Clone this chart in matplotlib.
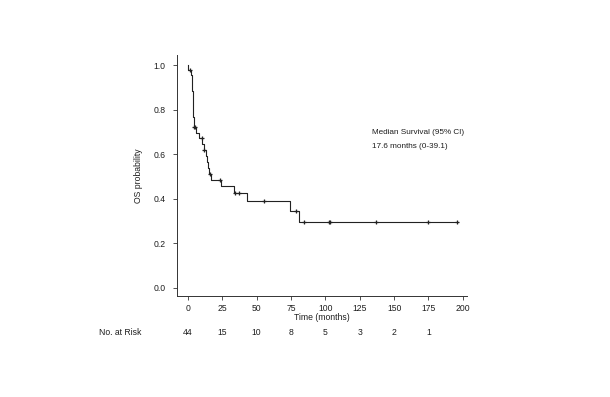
import numpy as np
import matplotlib
matplotlib.use("Agg")
import matplotlib.pyplot as plt

plt.rcParams['font.family'] = ['Liberation Sans', 'DejaVu Sans']

# Kaplan-Meier step curve (time in months, survival after step)
step_times = [0, 0.5, 2.6, 2.9, 3.1, 3.3, 3.5, 3.7, 3.9, 4.0, 4.1, 4.3, 4.5,
              5.8, 8.3, 10.7, 11.5, 13.1, 13.8, 14.5, 15.3, 17.0, 24.5,
              33.9, 42.9, 74.4, 81.2]
step_surv = [1.0, 0.977, 0.954, 0.930, 0.907, 0.884, 0.861, 0.837, 0.814,
             0.791, 0.768, 0.744, 0.721, 0.696, 0.671, 0.645, 0.620, 0.593,
             0.566, 0.539, 0.512, 0.486, 0.456, 0.427, 0.389, 0.344, 0.296]
end_time = 196.3

censor_times = [1.5, 4.7, 5.4, 10.2, 12.1, 16.0, 23.3, 34.4, 37.3, 55.5,
                78.8, 84.8, 102.5, 103.7, 136.7, 174.5, 195.6]

risk_times = [0, 25, 50, 75, 100, 125, 150, 175]
risk_counts = [44, 15, 10, 8, 5, 3, 2, 1]

x_ticks = [0, 25, 50, 75, 100, 125, 150, 175, 200]
y_ticks = [0.0, 0.2, 0.4, 0.6, 0.8, 1.0]

FS = 6.2
TC = '#1e1e1e'

fig = plt.figure(figsize=(6.1, 3.97), dpi=100)
ax = fig.add_axes([177/610, 1-296/397, 290/610, 241/397])

xs = list(step_times) + [end_time]
ys = list(step_surv) + [step_surv[-1]]
ax.step(xs, ys, where='post', color='#222222', lw=0.8)

st = np.array(step_times)
sv = np.array(step_surv)
cy = [sv[np.searchsorted(st, t, side='right') - 1] for t in censor_times]
ax.plot(censor_times, cy, linestyle='none', marker='+', color='#222222',
        markersize=3.5, mew=0.9)

ax.set_xlim(-7.8, 203)
ax.set_ylim(-0.037, 1.045)
ax.set_xticks(x_ticks)
ax.set_yticks(y_ticks)
ax.set_yticklabels([f"{v:.1f}" for v in y_ticks])
for s in ['top', 'right']:
    ax.spines[s].set_visible(False)
for s in ['left', 'bottom']:
    ax.spines[s].set_color('#333333')
    ax.spines[s].set_linewidth(0.7)
ax.tick_params(direction='out', length=3, width=0.6, colors='#333333',
               labelsize=FS, labelcolor=TC)
ax.tick_params(axis='x', pad=3)
ax.tick_params(axis='y', pad=5)
ax.set_xlabel('Time (months)', fontsize=FS, color=TC, labelpad=0)
ax.set_ylabel('OS probability', fontsize=FS, color=TC, labelpad=8)

ax.text(372/610, 1-132.7/397, 'Median Survival (95% CI)', transform=fig.transFigure,
        fontsize=5.9, color=TC, va='center', ha='left')
ax.text(372/610, 1-146.3/397, '17.6 months (0-39.1)', transform=fig.transFigure,
        fontsize=5.9, color=TC, va='center', ha='left')

trans = matplotlib.transforms.blended_transform_factory(ax.transData, fig.transFigure)
for t, c in zip(risk_times, risk_counts):
    ax.text(t, 1-332.5/397, str(c), transform=trans, fontsize=FS,
            color=TC, ha='center', va='center')
fig.text(141/610, 1-332.5/397, 'No. at Risk', fontsize=FS, color=TC,
         ha='right', va='center')

fig.savefig('out.png', dpi=100)
